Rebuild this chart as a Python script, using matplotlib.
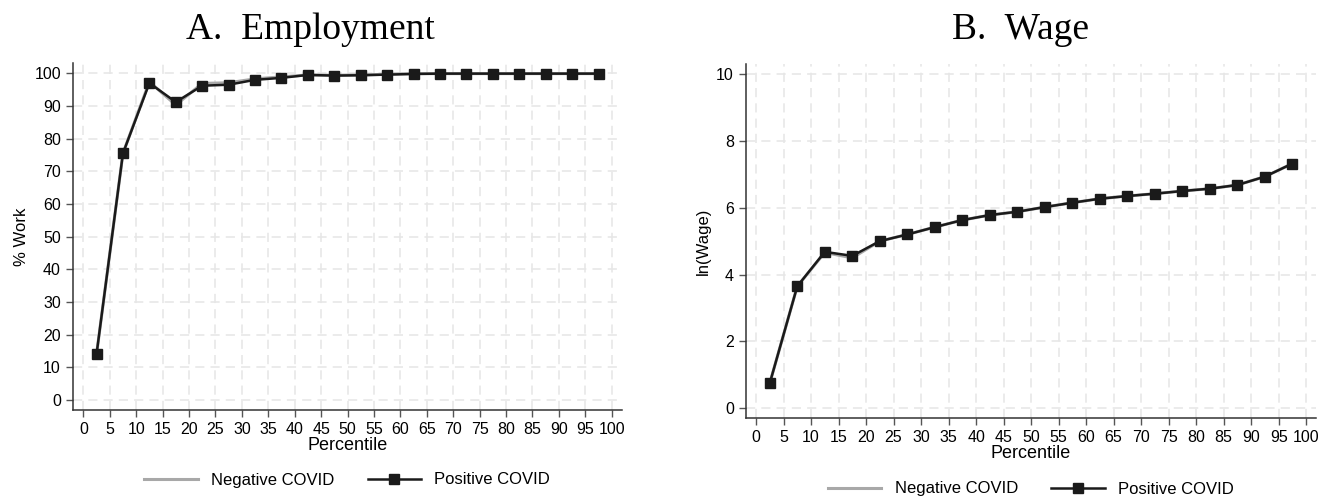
import matplotlib.pyplot as plt
import numpy as np

plt.rcParams['font.family'] = ['Liberation Sans', 'DejaVu Sans']

percentile = [2.5, 7.5, 12.5, 17.5, 22.5, 27.5, 32.5, 37.5, 42.5, 47.5,
              52.5, 57.5, 62.5, 67.5, 72.5, 77.5, 82.5, 87.5, 92.5, 97.5]

work_negative = [14.0, 75.5, 97.4, 90.3, 96.9, 97.1, 98.3, 98.9, 99.5, 99.4,
                 99.5, 99.7, 99.9, 99.9, 99.9, 99.9, 99.9, 99.9, 99.9, 99.9]
work_positive = [14.0, 75.5, 97.0, 91.2, 96.2, 96.5, 98.0, 98.6, 99.5, 99.3,
                 99.4, 99.6, 99.8, 99.9, 99.9, 99.9, 99.9, 99.9, 99.9, 99.9]

wage_negative = [0.75, 3.65, 4.66, 4.50, 5.00, 5.20, 5.42, 5.63, 5.78, 5.88,
                 6.02, 6.15, 6.27, 6.35, 6.42, 6.50, 6.57, 6.68, 6.93, 7.32]
wage_positive = [0.75, 3.65, 4.68, 4.56, 5.00, 5.20, 5.42, 5.63, 5.78, 5.88,
                 6.02, 6.15, 6.27, 6.35, 6.42, 6.50, 6.57, 6.68, 6.93, 7.32]

x_ticks = list(range(0, 101, 5))

GRID_COLOR = '#e6e6e6'
NEG_COLOR = '#a8a8a8'
POS_COLOR = '#1a1a1a'


def drawPanel(ax, negative, positive, ylabel, yticks, xlim, ylim, legend_y):
    ax.grid(True, color=GRID_COLOR, linestyle=(0, (6, 4)), linewidth=1.1)
    ax.set_axisbelow(True)
    ax.plot(percentile, negative, color=NEG_COLOR, linewidth=2.2, label='Negative COVID')
    ax.plot(percentile, positive, color=POS_COLOR, linewidth=1.8, marker='s',
            markersize=7, label='Positive COVID')
    ax.set_xlim(*xlim)
    ax.set_ylim(*ylim)
    ax.set_xticks(x_ticks)
    ax.set_yticks(yticks)
    ax.tick_params(axis='both', labelsize=11.5, length=5, color='#555555', width=1)
    for side in ['top', 'right']:
        ax.spines[side].set_visible(False)
    for side in ['left', 'bottom']:
        ax.spines[side].set_color('#333333')
        ax.spines[side].set_linewidth(1.1)
    ax.set_xlabel('Percentile', fontsize=13, labelpad=0)
    ax.set_ylabel(ylabel, fontsize=12)
    pos = ax.get_position()
    ax.legend(loc='center', bbox_to_anchor=((pos.x0 + pos.x1) / 2, legend_y),
              bbox_transform=ax.figure.transFigure, ncol=2, frameon=False,
              fontsize=12, handlelength=3.2, columnspacing=2.0)


fig = plt.figure(figsize=(13.3, 5), dpi=100)
ax1 = fig.add_axes([0.0547, 0.18, 0.4128, 0.6934])
ax2 = fig.add_axes([0.5607, 0.1634, 0.4288, 0.7086])

drawPanel(ax1, work_negative, work_positive, '% Work',
          list(range(0, 101, 10)), (-2.0, 101.9), (-3.06, 103.06), 0.04)
drawPanel(ax2, wage_negative, wage_positive, 'ln(Wage)',
          list(range(0, 11, 2)), (-1.87, 101.8), (-0.3, 10.3), 0.022)

fig.text(310 / 1330, 1 - 30 / 500, 'A.  Employment', fontfamily='Liberation Serif',
         fontsize=27, ha='center', va='center')
fig.text(1020 / 1330, 1 - 30 / 500, 'B.  Wage', fontfamily='Liberation Serif',
         fontsize=27, ha='center', va='center')

fig.savefig('out.png', dpi=100)
